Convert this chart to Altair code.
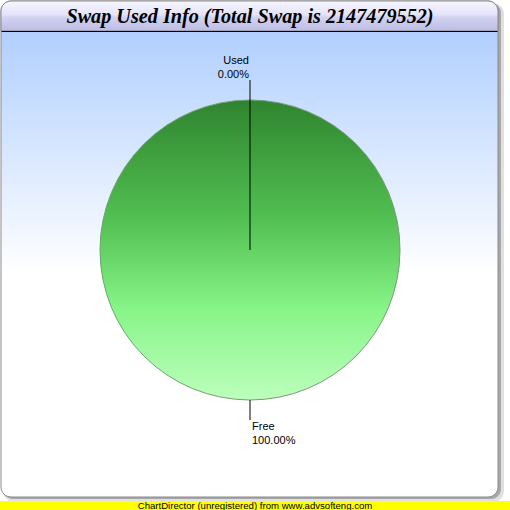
import altair as alt
import pandas as pd

# ---- data ----
names = ["Used", "Free"]
values = [0, 2147479552]
title_lines = ["Swap Used Info (Total Swap is 2147479552)"]
footer_lines = ["ChartDirector (unregistered) from www.advsofteng.com"]

W = H = 510
CX, CY, R = 250, 250, 150
LABEL_R = 170

total = sum(values)
df = pd.DataFrame({
    "name": names,
    "value": values,
    "idx": list(range(len(names))),
    "label": [f"{n}\n{v / total * 100:.2f}%" for n, v in zip(names, values)],
})

one = alt.Data(values=[{}])


def grad(stops, x1=0, y1=0, x2=0, y2=1):
    return alt.LinearGradient(
        gradient="linear",
        stops=[alt.GradientStop(offset=o, color=c) for o, c in stops],
        x1=x1, y1=y1, x2=x2, y2=y2,
    )


def box(x, x2, y, y2):
    return dict(x=alt.value(x), x2=alt.value(x2), y=alt.value(y), y2=alt.value(y2))


shadow1 = alt.Chart(one).mark_rect(cornerRadius=11, fill="#000000", opacity=0.12).encode(**box(3, 504, 3, 502))
shadow2 = alt.Chart(one).mark_rect(cornerRadius=10, fill="#000000", opacity=0.25).encode(**box(3, 501, 3, 499))

frame = alt.Chart(one).mark_rect(
    cornerRadius=10,
    fill=grad([(0, "#b2d0ff"), (0.07, "#b2d0ff"), (0.55, "#ffffff"), (1, "#ffffff")]),
    stroke="#8a8a8a", strokeWidth=1,
).encode(**box(1, 498, 1, 497))

titlebar = alt.Chart(one).mark_rect(
    cornerRadiusTopLeft=10, cornerRadiusTopRight=10,
    fill=grad([(0, "#f6f6ff"), (0.45, "#e4e4fa"), (0.55, "#d2d2f2"), (1, "#bcbce4")]),
    stroke="#8a8a8a", strokeWidth=1,
).encode(**box(1, 498, 1, 31))

titleline = alt.Chart(one).mark_rule(color="#000000", strokeWidth=1).encode(
    x=alt.value(1.5), x2=alt.value(497.5), y=alt.value(31.5)
)

title = alt.Chart(alt.Data(values=[{"t": t} for t in title_lines])).mark_text(
    font="Liberation Serif", fontSize=20.2, fontWeight="bold", fontStyle="italic",
    align="center", baseline="alphabetic", color="#000000",
).encode(x=alt.value(250), y=alt.value(23), text="t:N")

pie = alt.Chart(df).mark_arc(
    outerRadius=R,
    fill=grad([(0, "#2f842f"), (0.4, "#52c052"), (0.7, "#88f588"), (1, "#bcffbc")]),
    stroke="#749f74", strokeWidth=1,
).encode(
    theta=alt.Theta("value:Q", stack=True),
    order=alt.Order("idx:Q"),
    x=alt.value(CX), y=alt.value(CY),
)

base = alt.Chart(df).transform_joinaggregate(
    tot="sum(value)"
).transform_window(
    cum="sum(value)", sort=[alt.SortField("idx")], frame=[None, 0]
).transform_calculate(
    mid="(datum.cum - datum.value / 2) / datum.tot * 2 * PI",
).transform_calculate(
    r1=f"datum.value == 0 ? 0 : {R}",
).transform_calculate(
    px1=f"{CX} + datum.r1 * sin(datum.mid)",
    py1=f"{CY} - datum.r1 * cos(datum.mid)",
    px2=f"{CX} + {LABEL_R} * sin(datum.mid)",
    py2=f"{CY} - {LABEL_R} * cos(datum.mid)",
    up="cos(datum.mid) >= 0",
)

connectors = base.mark_rule(color="#000000", strokeWidth=1).encode(
    x=alt.X("px1:Q", scale=None), y=alt.Y("py1:Q", scale=None),
    x2="px2:Q", y2="py2:Q",
)

labels_up = base.transform_filter("datum.up").mark_text(
    font="Liberation Sans", fontSize=11, lineBreak="\n", lineHeight=14,
    align="right", baseline="bottom", dx=-1, dy=-14, color="#000000",
).encode(x=alt.X("px2:Q", scale=None), y=alt.Y("py2:Q", scale=None), text="label:N")

labels_down = base.transform_filter("!datum.up").mark_text(
    font="Liberation Sans", fontSize=11, lineBreak="\n", lineHeight=14,
    align="left", baseline="top", dx=2, dy=1, color="#000000",
).encode(x=alt.X("px2:Q", scale=None), y=alt.Y("py2:Q", scale=None), text="label:N")

footer_bg = alt.Chart(one).mark_rect(fill="#ffff00").encode(**box(0, 510, 501, 510))
footer = alt.Chart(alt.Data(values=[{"t": t} for t in footer_lines])).mark_text(
    font="Liberation Sans", fontSize=9.6, align="center", baseline="alphabetic", color="#000000",
).encode(x=alt.value(255), y=alt.value(508.5), text="t:N")

chart = alt.layer(
    shadow1, shadow2, frame, titlebar, titleline, title,
    pie, connectors, labels_up, labels_down, footer_bg, footer,
).properties(
    width=W, height=H, padding=0, autosize=alt.AutoSizeParams(type="none"),
    background="#ffffff",
).configure_view(stroke=None)

chart.save("out.html", embed_options={"renderer": "svg", "actions": False})
